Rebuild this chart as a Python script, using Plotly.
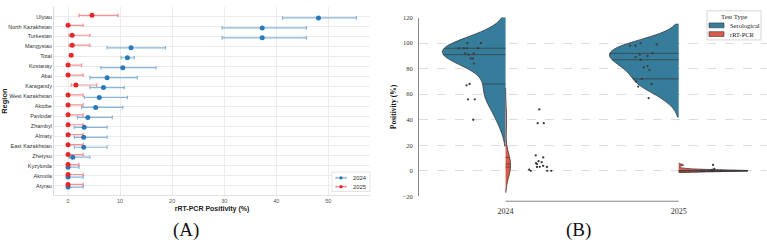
import numpy as np
import plotly.graph_objects as go

# ---------------- Panel A data (rRT-PCR positivity %, point and 95% CI) -------------
regions = ["Ulytau", "North Kazakhstan", "Turkestan", "Mangystau", "Total", "Kostanay",
           "Abai", "Karagandy", "West Kazakhstan", "Aktobe", "Pavlodar", "Zhambyl",
           "Almaty", "East Kazakhstan", "Zhetysu", "Kyzylorda", "Akmola", "Atyrau"]
pcr_2024 = [48.1, 37.3, 37.3, 12.1, 11.4, 10.5, 7.5, 6.8, 6.0, 5.3, 3.8, 3.1, 3.0, 3.0, 0.9, 0.0, 0.0, 0.0]
pcr_2024_lo = [41.2, 29.6, 29.6, 7.5, 10.2, 6.3, 4.2, 4.2, 3.1, 2.6, 1.8, 1.2, 1.2, 1.2, 0.2, 0.0, 0.0, 0.0]
pcr_2024_hi = [55.4, 45.8, 45.8, 18.7, 12.7, 16.9, 13.3, 10.8, 11.4, 10.5, 8.5, 7.5, 7.5, 7.5, 4.2, 2.1, 2.9, 2.9]
pcr_2025 = [4.6, 0.0, 0.8, 0.8, 0.6, 0.0, 0.0, 1.5, 0.0, 0.0, 0.0, 0.0, 0.0, 0.0, 0.0, 0.0, 0.0, 0.0]
pcr_2025_lo = [2.1, 0.0, 0.2, 0.2, 0.4, 0.0, 0.0, 0.6, 0.0, 0.0, 0.0, 0.0, 0.0, 0.0, 0.0, 0.0, 0.0, 0.0]
pcr_2025_hi = [9.6, 2.9, 4.2, 4.2, 0.8, 2.6, 2.9, 5.5, 2.9, 2.9, 2.9, 2.9, 2.9, 2.9, 2.9, 2.1, 2.9, 2.9]
x_ticks_a = [0, 10, 20, 30, 40, 50]
series_a = ["2024", "2025"]

# ---------------- Panel B data (positivity by region) ----------------
years = ["2024", "2025"]
sero_2024 = [100, 100, 96, 96, 96, 96, 92, 92, 91, 88, 88, 84, 68, 67, 56, 56, 40]
sero_2025 = [100, 99, 98, 98, 92, 91, 90, 89, 87, 82, 81, 79, 72, 70, 68, 66, 57]
y_ticks_b = [-20, 0, 20, 40, 60, 80, 100, 120]
test_types = ["Serological", "rRT-PCR"]

# ---------------- styles ----------------
BLUE_A = "#2a7ab9"
RED_A = "#e3282c"
EBLUE = "rgba(42,122,185,0.55)"
ERED = "rgba(227,40,44,0.5)"
SERO = "#367c9b"
PCR = "#dc5a4b"
SANS = "Liberation Sans"
SERIF = "Liberation Serif"
W, H = 767, 246


def px(x):
    return x / W


def py(y):
    return 1 - y / H


fig = go.Figure()

# ---- Panel A ----
idx = np.arange(len(regions))
off = 0.13
for vals, lo, hi, name, col, ecol, sign in [
    (pcr_2024, pcr_2024_lo, pcr_2024_hi, series_a[0], BLUE_A, EBLUE, +1),
    (pcr_2025, pcr_2025_lo, pcr_2025_hi, series_a[1], RED_A, ERED, -1),
]:
    v = np.array(vals); l = np.array(lo); h = np.array(hi)
    fig.add_trace(go.Scatter(
        x=v, y=idx + sign * off, mode="markers", name=name, showlegend=False,
        marker=dict(color=col, size=5),
        error_x=dict(type="data", array=h - v, arrayminus=v - l, color=ecol,
                     thickness=1.2, width=1.8),
        xaxis="x", yaxis="y"))

# ---- Panel B ----
excl = [i for i, r in enumerate(regions) if r != "Total"]
pcr24_b = [pcr_2024[i] for i in excl]
pcr25_b = [pcr_2025[i] for i in excl]

groups = [
    (0, sero_2024, test_types[0], SERO, "negative", 0.73),
    (1, sero_2025, test_types[0], SERO, "negative", 0.80),
    (0, pcr24_b, test_types[1], PCR, "positive", 0.058),
    (1, pcr25_b, test_types[1], PCR, "positive", 0.80),
]

qx, qy = [], []
for pos, vals, name, col, side, w in groups:
    vals = np.asarray(vals, float)
    bw = np.std(vals, ddof=1) * len(vals) ** (-0.2)
    fig.add_trace(go.Violin(
        x0=pos, y=vals, side=side, width=w, scalemode="width", bandwidth=bw,
        spanmode="soft", points=False, fillcolor=col, opacity=1,
        line=dict(color="#3a3a3a", width=0.8), name=name, showlegend=False,
        xaxis="x2", yaxis="y2", box_visible=False, meanline_visible=False,
        hoverinfo="y"))
    # quartile lines (seaborn inner="quartile")
    grid = np.linspace(vals.min() - 2 * bw, vals.max() + 2 * bw, 400)
    dens = np.exp(-0.5 * ((grid[None, :] - vals[:, None]) / bw) ** 2).sum(0)
    dmax = dens.max()
    sgn = -1 if side == "negative" else 1
    for q in np.percentile(vals, [25, 50, 75]):
        dq = np.exp(-0.5 * ((q - vals) / bw) ** 2).sum()
        qx += [pos, pos + sgn * (w / 2) * dq / dmax, None]
        qy += [q, q, None]

fig.add_trace(go.Scatter(x=qx, y=qy, mode="lines", line=dict(color="#3a3a3a", width=0.7),
                         showlegend=False, hoverinfo="skip", xaxis="x2", yaxis="y2"))

for pos, vals, name, col, side, w in groups:
    fig.add_trace(go.Box(
        x0=pos, y=vals, width=0.2, boxpoints="all", jitter=0.85,
        pointpos=-2 if side == "negative" else 2,
        fillcolor="rgba(0,0,0,0)", line=dict(width=0, color="rgba(0,0,0,0)"),
        marker=dict(size=2.3, color="#3c3c3c"), showlegend=False,
        xaxis="x2", yaxis="y2", hoverinfo="y"))

# ---------------- legends (drawn compactly) ----------------
shapes = [
    # panel B trimmed bottom spine between the two year positions
    dict(type="line", xref="x2", yref="paper", x0=0, x1=len(years) - 1,
         y0=py(203), y1=py(203), line=dict(color="#888", width=1)),
    # legend A frame
    dict(type="rect", xref="paper", yref="paper", x0=px(332), x1=px(370),
         y0=py(193), y1=py(173), line=dict(color="#dddddd", width=0.8),
         fillcolor="white", layer="above"),
    # legend B frame
    dict(type="rect", xref="paper", yref="paper", x0=px(707), x1=px(761),
         y0=py(37), y1=py(7), line=dict(color="#cccccc", width=0.8),
         fillcolor="white", layer="above"),
]
annotations = []
for k, (name, col, ecol) in enumerate([(series_a[0], BLUE_A, EBLUE), (series_a[1], RED_A, ERED)]):
    yy = 179 + 9 * k
    shapes += [
        dict(type="line", xref="paper", yref="paper", x0=px(336), x1=px(346),
             y0=py(yy), y1=py(yy), line=dict(color=ecol, width=1.2), layer="above"),
        dict(type="line", xref="paper", yref="paper", x0=px(336), x1=px(336),
             y0=py(yy - 1.2), y1=py(yy + 1.2), line=dict(color=ecol, width=1), layer="above"),
        dict(type="line", xref="paper", yref="paper", x0=px(346), x1=px(346),
             y0=py(yy - 1.2), y1=py(yy + 1.2), line=dict(color=ecol, width=1), layer="above"),
        dict(type="circle", xref="paper", yref="paper", x0=px(339.3), x1=px(342.7),
             y0=py(yy + 1.7), y1=py(yy - 1.7), fillcolor=col, line=dict(width=0),
             layer="above"),
    ]
    annotations.append(dict(text=name, x=px(351), y=py(yy), xref="paper", yref="paper",
                            xanchor="left", yanchor="middle", showarrow=False,
                            font=dict(family=SANS, size=5.8, color="#333")))

annotations.append(dict(text="Test Type", x=px(734), y=py(13), xref="paper", yref="paper",
                        xanchor="center", yanchor="middle", showarrow=False,
                        font=dict(family=SERIF, size=6.8, color="#222")))
for k, (name, col) in enumerate([(test_types[0], SERO), (test_types[1], PCR)]):
    yy = 22 + 9 * k
    shapes.append(dict(type="rect", xref="paper", yref="paper", x0=px(709), x1=px(724),
                       y0=py(yy + 2.5), y1=py(yy - 2.5), fillcolor=col,
                       line=dict(color="#3a3a3a", width=0.6), layer="above"))
    annotations.append(dict(text=name, x=px(728), y=py(yy), xref="paper", yref="paper",
                            xanchor="left", yanchor="middle", showarrow=False,
                            font=dict(family=SERIF, size=6.5, color="#222")))

annotations += [
    dict(text="(A)", x=px(186), y=py(233), xref="paper", yref="paper", xanchor="center",
         yanchor="middle", showarrow=False, font=dict(family=SERIF, size=19, color="#111")),
    dict(text="(B)", x=px(578), y=py(233), xref="paper", yref="paper", xanchor="center",
         yanchor="middle", showarrow=False, font=dict(family=SERIF, size=19, color="#111")),
]

fig.update_layout(
    width=W, height=H, margin=dict(l=0, r=0, t=0, b=0),
    paper_bgcolor="white", plot_bgcolor="white", showlegend=False,
    boxmode="overlay", violinmode="overlay",
    xaxis=dict(domain=[px(54), px(370)], anchor="y", range=[-2.7, 58],
               tickvals=x_ticks_a, showgrid=True, gridcolor="#ebebeb", gridwidth=0.8,
               zeroline=False, showline=True, linecolor="#e2e2e2", linewidth=1,
               tickfont=dict(family=SANS, size=5.5, color="#555"),
               title=dict(text="rRT-PCR Positivity (%)", standoff=3,
                          font=dict(family=SANS, size=7, color="#222", weight="bold"))),
    yaxis=dict(domain=[py(197), py(3)], anchor="x",
               range=[17.97, -0.98], tickvals=list(idx), ticktext=regions,
               showgrid=True, gridcolor="#ebebeb", gridwidth=0.8, zeroline=False,
               showline=True, linecolor="#dcdcdc", linewidth=1,
               tickfont=dict(family=SANS, size=5.5, color="#333"),
               title=dict(text="Region", standoff=3,
                          font=dict(family=SANS, size=7.5, color="#222", weight="bold"))),
    xaxis2=dict(domain=[px(419), 1.0], anchor="y2", range=[-0.5, 1.51],
                tickvals=[0, 1], ticktext=years, showgrid=False, zeroline=False,
                showline=False, ticklabelstandoff=9,
                tickfont=dict(family=SERIF, size=8, color="#333")),
    yaxis2=dict(domain=[py(198), py(14)], anchor="x2", range=[-20, 120],
                tickvals=y_ticks_b, showgrid=True, gridcolor="#dcdcdc", gridwidth=0.8,
                griddash="dash", zeroline=False, showline=True, linecolor="#888",
                linewidth=1, ticklabelstandoff=4,
                tickfont=dict(family=SERIF, size=6.5, color="#333"),
                title=dict(text="Positivity (%)", standoff=4,
                           font=dict(family=SERIF, size=7.5, color="#111", weight="bold"))),
    shapes=shapes,
    annotations=annotations,
)

fig.write_html("out.html")
